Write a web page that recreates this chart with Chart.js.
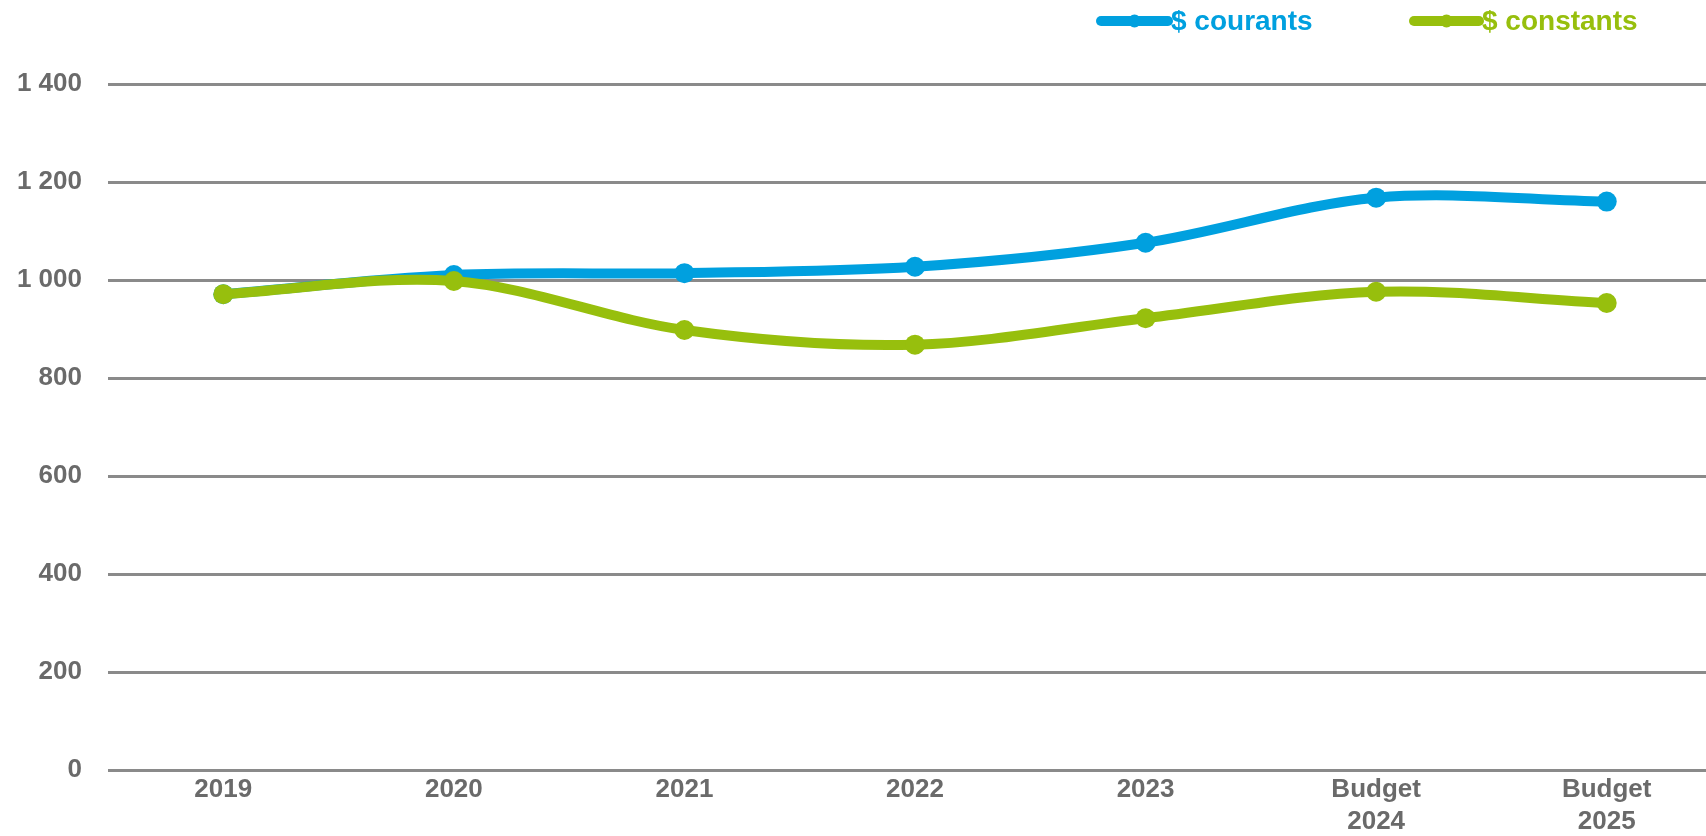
<!DOCTYPE html>
<html lang="fr">
<head>
    <meta charset="UTF-8">
    <title>$ courants et $ constants</title>
    <script src="https://cdn.jsdelivr.net/npm/chart.js"></script>
    <style>
        body {
            margin: 0;
            overflow: hidden;
            background: #ffffff;
            font-family: "Liberation Sans", Arial, sans-serif;
        }
        #chart {
            display: block;
        }
    </style>
</head>
<body>
    <canvas id="chart" width="1722" height="836"></canvas>

    <script>
        const categories = ['2019', '2020', '2021', '2022', '2023', ['Budget', '2024'], ['Budget', '2025']];
        const courants = [971, 1010, 1014, 1027, 1076, 1168, 1160];
        const constants = [971, 998, 898, 868, 922, 976, 953];
        const yTickValues = [0, 200, 400, 600, 800, 1000, 1200, 1400];
        const yTickLabels = ['0', '200', '400', '600', '800', '1 000', '1 200', '1 400'];

        const BLUE = '#00a0df';
        const GREEN = '#97bf0d';
        const GREY_TEXT = '#6a6a6a';
        const FONT = '"Liberation Sans", Arial, sans-serif';

        // legende dessinee a la main (trait epais + point au milieu)
        const topLegend = {
            id: 'topLegend',
            afterDraw(chart, args, opts) {
                const ctx = chart.ctx;
                ctx.save();
                ctx.font = opts.font;
                ctx.textBaseline = 'middle';
                ctx.textAlign = 'left';
                chart.data.datasets.forEach((ds, i) => {
                    const it = opts.items[i];
                    ctx.strokeStyle = ds.borderColor;
                    ctx.fillStyle = ds.borderColor;
                    ctx.lineWidth = 10;
                    ctx.lineCap = 'round';
                    ctx.beginPath();
                    ctx.moveTo(it.x0, opts.y);
                    ctx.lineTo(it.x1, opts.y);
                    ctx.stroke();
                    ctx.beginPath();
                    ctx.arc((it.x0 + it.x1) / 2, opts.y, 6.5, 0, Math.PI * 2);
                    ctx.fill();
                    ctx.fillText(ds.label, it.x1 + 3, opts.y + 1);
                });
                ctx.restore();
            }
        };

        new Chart(document.getElementById('chart'), {
            type: 'line',
            data: {
                labels: categories,
                datasets: [{
                    label: '$ courants',
                    data: courants,
                    borderColor: BLUE,
                    backgroundColor: BLUE,
                    pointBackgroundColor: BLUE,
                    borderWidth: 10,
                    pointRadius: 10,
                    pointBorderWidth: 0,
                    tension: 0.33,
                    order: 2
                }, {
                    label: '$ constants',
                    data: constants,
                    borderColor: GREEN,
                    backgroundColor: GREEN,
                    pointBackgroundColor: GREEN,
                    borderWidth: 10,
                    pointRadius: 10,
                    pointBorderWidth: 0,
                    tension: 0.33,
                    order: 1
                }]
            },
            options: {
                responsive: false,
                animation: false,
                layout: {
                    autoPadding: false,
                    padding: { top: 84, left: 0, right: 0, bottom: 0 }
                },
                scales: {
                    x: {
                        offset: true,
                        afterFit: (scale) => {
                            scale.height = 66;
                        },
                        grid: { display: false },
                        border: { display: false },
                        ticks: {
                            color: GREY_TEXT,
                            font: { family: FONT, size: 26, weight: 'bold', lineHeight: 1.23 },
                            padding: -4,
                            maxRotation: 0,
                            autoSkip: false
                        }
                    },
                    y: {
                        min: 0,
                        max: 1400,
                        afterBuildTicks: (scale) => {
                            scale.ticks = yTickValues.map(v => ({ value: v }));
                        },
                        afterFit: (scale) => {
                            scale.width = 108;
                        },
                        grid: {
                            color: '#8a8a8a',
                            lineWidth: 3,
                            drawTicks: false
                        },
                        border: { display: false },
                        ticks: {
                            color: GREY_TEXT,
                            font: { family: FONT, size: 26, weight: 'bold' },
                            padding: 26,
                            callback: (value) => yTickLabels[yTickValues.indexOf(value)]
                        }
                    }
                },
                plugins: {
                    legend: { display: false },
                    tooltip: { enabled: false },
                    topLegend: {
                        font: 'bold 28px ' + FONT,
                        y: 21,
                        items: [{ x0: 1101, x1: 1168 }, { x0: 1414, x1: 1479 }]
                    }
                }
            },
            plugins: [topLegend]
        });
    </script>
</body>
</html>
